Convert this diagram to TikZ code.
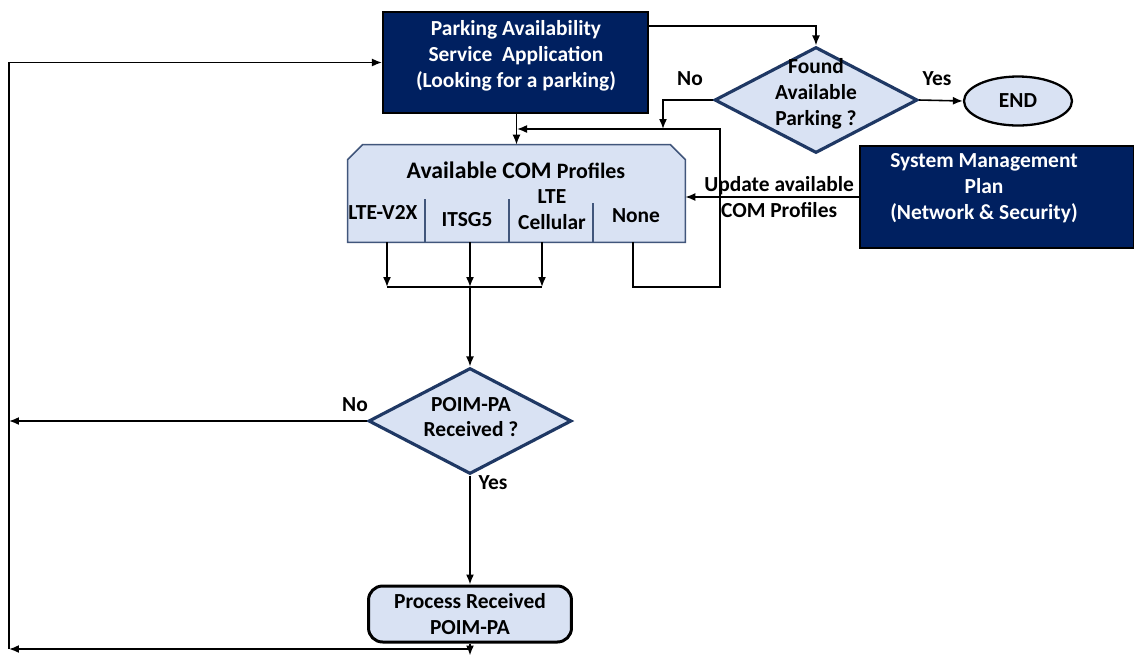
\documentclass[tikz,border=0pt]{standalone}
\usepackage{fontspec}
\setmainfont{Carlito}
\usepackage{tikz}
\usetikzlibrary{arrows.meta}
\usetikzlibrary{shapes.geometric}
\definecolor{navy}{HTML}{002060}
\definecolor{paleblue}{HTML}{D9E2F3}
\definecolor{edgeblue}{HTML}{1F3864}
\colorlet{comedge}{edgeblue!85!white}

\begin{document}
\begin{tikzpicture}[
x=0.02cm,y=-0.02cm,
MyBoxes/.style={draw=black,fill=navy,line width=1.2pt,inner sep=0pt},
MyDiamonds/.style={diamond,draw=edgeblue,fill=paleblue,line width=1.8pt,minimum width=4.06cm,minimum height=2.12cm,inner sep=0pt},
Connectors/.style={-{Latex[length=2mm,width=1.6mm]},black,line width=0.9pt},
Lines/.style={black,line width=0.9pt},
Dividers/.style={draw=comedge,line width=0.9pt},
every node/.style={font=\bfseries\fontsize{12.2}{14.7}\selectfont}
]
%\grid;
\useasboundingbox[fill=white] (0,0) rectangle (1134,654);

\node[MyBoxes,minimum width=5.3cm,minimum height=2.02cm] (PA) at (515.5,62.5) {};
\node[text=white,align=center] (PAText) at (516,56) {Parking Availability\\Service\ \ Application\\(Looking for a parking)};

\node[MyDiamonds] (Found) at (816,100) {};
\node[align=center] (FoundText) at (816,94) {Found\\Available\\Parking ?};

\node[ellipse,draw=black,fill=paleblue,line width=1.3pt,minimum width=2.16cm,minimum height=0.98cm,inner sep=0pt] (END) at (1018,101) {END};

\node[MyBoxes,minimum width=5.48cm,minimum height=2.04cm] (SMP) at (997,197) {};
\node[text=white,align=center] (SMPText) at (984,188) {System Management\\Plan\\(Network \& Security)};

% COM profiles box, top corners cut
\node[minimum width=6.74cm,minimum height=1.94cm,inner sep=0pt] (COM) at (516.5,193.5) {};
\filldraw[Dividers,fill=paleblue] (COM.south west) -- ([yshift=-0.3cm]COM.north west) -- ([xshift=0.3cm]COM.north west)
  -- ([xshift=-0.3cm]COM.north east) -- ([yshift=-0.3cm]COM.north east) -- (COM.south east) -- cycle;
\node (COMTitle) at (516,170) {\fontsize{13.5}{16}\selectfont Available COM {\fontsize{12.5}{15}\selectfont Profiles}};
\foreach \X/\Y in {425/199,509/199,593/203}
  \draw[Dividers] (\X,\Y) -- (COM.south -| \X,0);
\node (V2X) at (383,212) {LTE-V2X};
\node (G5) at (467,220) {ITSG5};
\node[align=center] (Cell) at (552,210) {LTE\\Cellular};
\node (None) at (636,216) {None};

\node[MyDiamonds] (POIM) at (470,421) {};
\node[align=center] (POIMText) at (471,417) {POIM-PA\\Received ?};

\node[rounded corners=8pt,draw=black,fill=paleblue,line width=1.7pt,minimum width=4.06cm,minimum height=1.12cm,align=center,inner sep=0pt] (Proc) at (470,614) {Process Received\\POIM-PA};

\coordinate (NoDrop) at (663,129);
\coordinate (Back) at (517,129);
\coordinate (Bus) at (470,287);
\coordinate (LeftBot) at (9,649);

% top part
\draw[Connectors] ([yshift=-0.3cm]PA.north east) -| (Found.north);
\draw[Connectors] (Found.east) -- (END.west);
\node (YesTop) at (937,79) {Yes};
\draw[Connectors] (Found.west) -| (NoDrop);
\node (NoTop) at (690,79) {No};
\draw[Connectors] (PA.south -| COM.north) -- (COM.north);
\draw[Connectors] (COM.south -| 633,0) |- (720,287) |- (Back);
\draw[Connectors] (SMP.west) -- (SMP.west -| COM.east) node[pos=0.46,align=center] (UpdLabel) {Update available\\COM Profiles};

% profiles to POIM
\foreach \X in {387,470,542}
  \draw[Connectors] (COM.south -| \X,0) -- (Bus -| \X,0);
\draw[Lines] (Bus -| 387,0) -- (Bus -| 542,0);
\draw[Connectors] (Bus) -- (POIM.north);

\draw[Connectors] (POIM.west) -- (POIM.west -| LeftBot);
\node (NoLow) at (355,405) {No};
\draw[Connectors] (POIM.south) -- (Proc.north);
\node (YesLow) at (493,483) {Yes};

% back to the start
\draw[Connectors] (Proc.south) -- ++(0,12);
\draw[Connectors] (Proc.south |- LeftBot) -- (LeftBot);
\draw[Connectors] (LeftBot) |- (PA.west);

\end{tikzpicture}
\end{document}
